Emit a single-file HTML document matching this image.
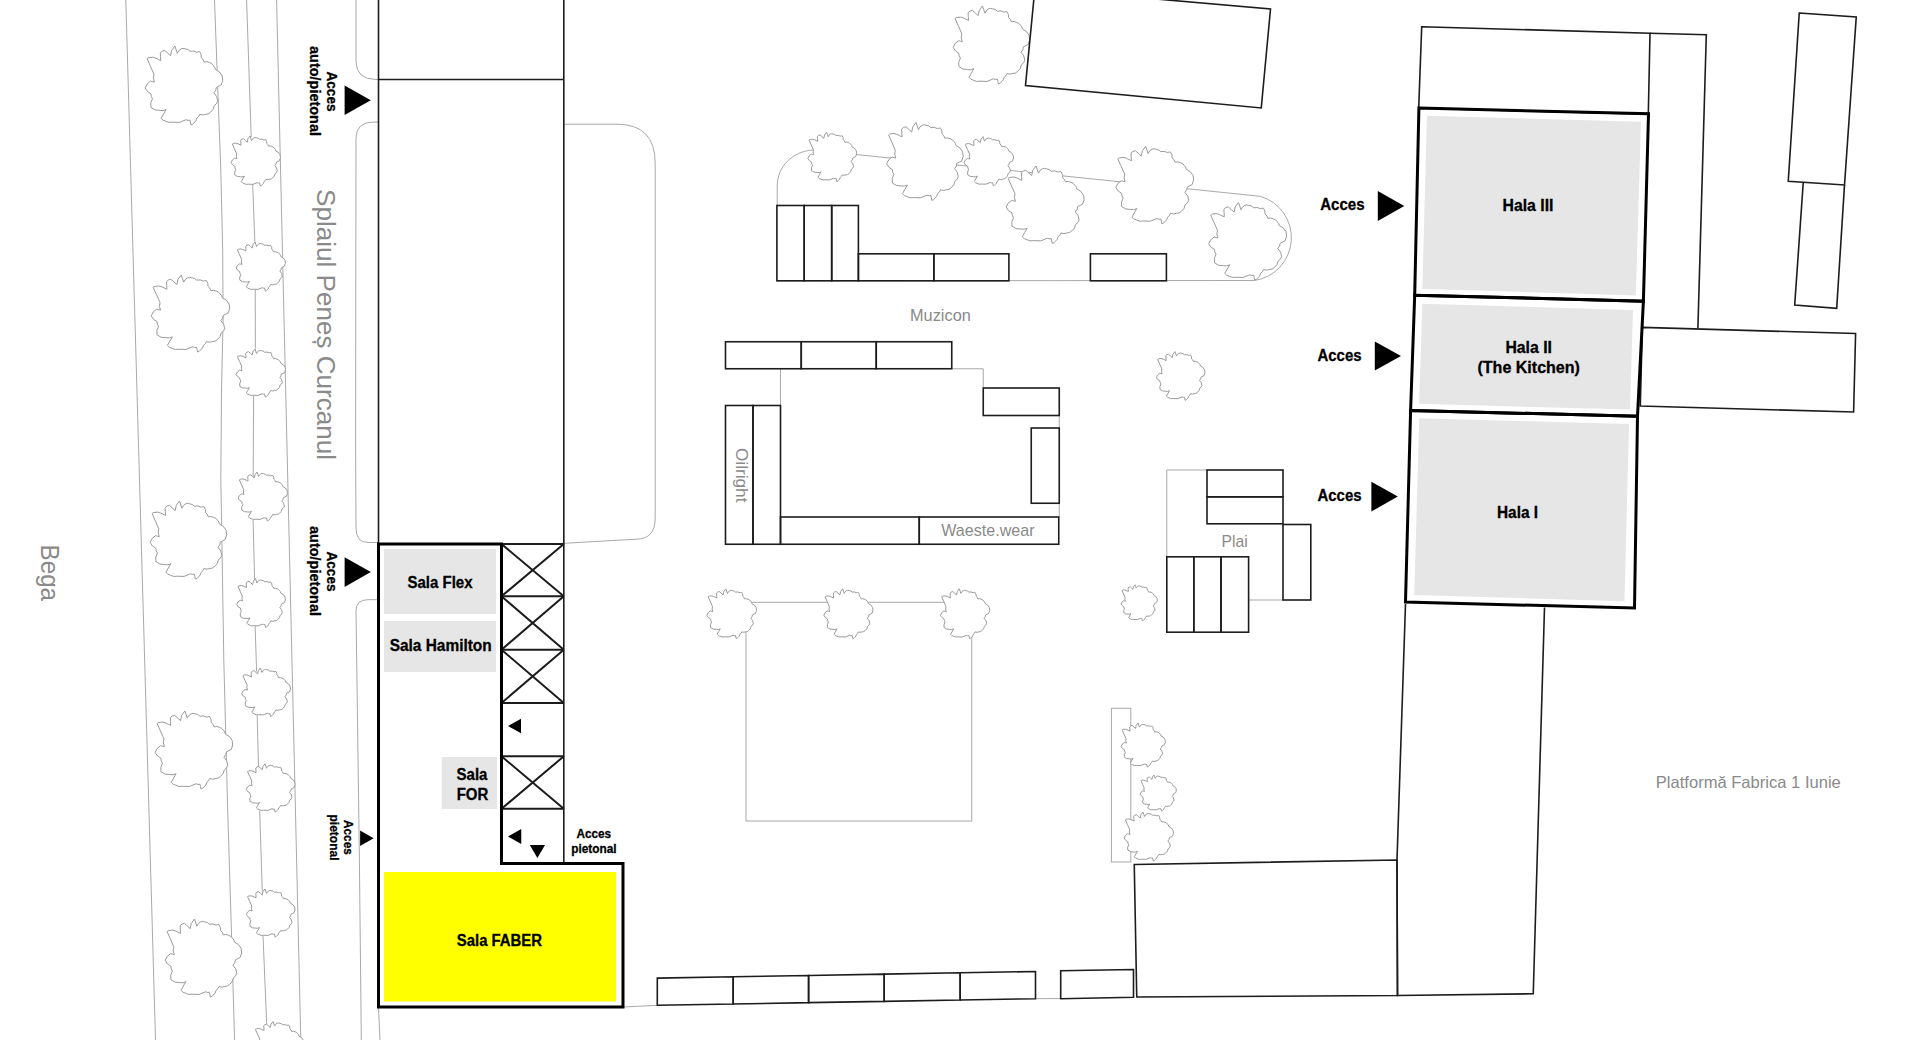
<!DOCTYPE html>
<html><head><meta charset="utf-8"><style>
html,body{margin:0;padding:0;background:#fff;width:1920px;height:1040px;overflow:hidden}
svg{display:block;font-family:"Liberation Sans",sans-serif}
</style></head><body>
<svg width="1920" height="1040" viewBox="0 0 1920 1040">
<rect width="1920" height="1040" fill="#fff"/>
<g fill="none" stroke="#a9a9a9" stroke-width="1">
<path d="M125.8,0 L155.5,1040"/>
<path d="M214.5,0 L220.8,170 L222.7,250 L223.1,320 L221.5,390 L220.8,480 L221.2,500 L223.8,660 L227.7,810 L231.5,934 L234.6,1040"/>
<path d="M246.6,0 L251.2,137 M252.7,184 L254.8,242 M255.2,289.6 L255.4,348.5 M253.6,395.2 L253.2,477.4 M253.1,520 L254.6,579.2 M255.1,625.4 L256.6,671.5 M257.2,715.4 L258.5,767 M259.7,810.8 L262.3,892.3 M263,935.4 L266.7,1024.4"/>
<path d="M276.6,0 L300.8,1040"/>
<path d="M356,0 L356,61 Q356,79.5 376,79.5 L378,79.5"/>
<path d="M378,122 L374,122 Q356,122 356,138 L355.6,440 L356,528 Q356,542.5 368,542.5 L378,542.5"/>
<path d="M378,599.7 L368,599.7 Q356,599.7 356,611 L359.4,860 L361.3,1040"/>
<path d="M378.5,1007 L380,1040"/>
<path d="M563.8,124.2 L617,124.2 Q655.2,124.2 655.2,163.5 L655.2,518 Q655.2,539.2 636,539.2 L563.8,543.3"/>
<path d="M623,1007 L657.3,1005.3 M1035.5,998.7 L1060.7,998.5"/>
<path d="M777.2,205.5 L777.2,186 C777.2,166 793,151.5 812.4,150 L1260.3,196.3 A43.2,43.2 0 0 1 1254.5,280.5 L776.9,280.8"/>
<path d="M951.75,368.75 L983.25,368.75 L983.25,388 M1059.25,415.5 L1059.25,428 M1059.25,503.25 L1059.25,517 M780.5,368.75 L780.5,405.5"/>
<rect x="746.00" y="602.30" width="225.75" height="218.70"/>
<path d="M1207,470 L1166.8,470 L1166.8,556.8 M1248.6,600 L1283,600"/>
<rect x="1111.40" y="708.30" width="19.40" height="153.70"/>
</g>
<g fill="#fff" stroke="#9a9a9a" stroke-width="1">
<path vector-effect="non-scaling-stroke" d="M-35.9,-26.4 Q-35.2,-27.3 -34.0,-27.4 Q-30.5,-28.6 -27.3,-26.9 Q-24.9,-25.7 -22.5,-24.5 Q-22.7,-28.4 -22.9,-32.2 Q-21.3,-34.3 -18.6,-34.6 Q-15.7,-32.0 -12.8,-29.3 Q-12.8,-35.0 -8.5,-38.9 Q-7.3,-35.3 -6.1,-31.7 Q-5.2,-34.7 -2.3,-36.1 Q-0.3,-37.0 1.6,-36.1 Q4.5,-36.0 6.4,-33.7 Q10.0,-34.7 13.1,-32.7 Q14.4,-33.6 16.0,-33.2 Q18.0,-30.6 17.5,-27.4 Q19.8,-25.9 20.3,-23.1 Q23.1,-24.0 25.6,-22.6 Q28.2,-22.0 29.5,-19.7 Q31.3,-18.2 31.4,-15.9 Q36.1,-14.2 38.1,-9.6 Q39.7,-4.9 37.2,-0.5 Q34.8,0.7 32.4,1.9 Q32.4,5.1 30.0,7.2 Q33.7,10.5 33.8,15.4 Q33.0,18.3 30.4,19.7 Q30.0,23.9 26.6,26.4 Q24.6,28.5 21.8,28.4 Q18.9,29.7 16.0,28.4 Q15.4,30.9 13.1,32.2 Q12.7,35.2 10.2,37.0 Q9.2,38.6 7.4,38.9 Q6.9,36.5 6.4,34.1 Q4.4,34.8 2.5,33.7 Q-3.7,37.8 -10.9,36.1 Q-14.5,37.1 -17.6,35.1 Q-20.4,34.6 -22.0,32.2 Q-19.6,27.9 -17.2,23.6 Q-20.1,25.4 -23.4,24.5 Q-28.4,25.0 -32.1,21.6 Q-33.2,17.0 -30.6,13.0 Q-32.4,10.9 -32.1,8.2 Q-36.2,6.6 -37.8,2.4 Q-36.6,-2.1 -32.5,-4.3 Q-30.6,-3.8 -28.7,-3.4 Q-30.6,-7.1 -29.2,-11.1 Q-32.5,-18.8 -35.9,-26.4Z" transform="translate(183.5,85.5) scale(1.0132,1.0154)"/>
<path vector-effect="non-scaling-stroke" d="M-35.9,-26.4 Q-35.2,-27.3 -34.0,-27.4 Q-30.5,-28.6 -27.3,-26.9 Q-24.9,-25.7 -22.5,-24.5 Q-22.7,-28.4 -22.9,-32.2 Q-21.3,-34.3 -18.6,-34.6 Q-15.7,-32.0 -12.8,-29.3 Q-12.8,-35.0 -8.5,-38.9 Q-7.3,-35.3 -6.1,-31.7 Q-5.2,-34.7 -2.3,-36.1 Q-0.3,-37.0 1.6,-36.1 Q4.5,-36.0 6.4,-33.7 Q10.0,-34.7 13.1,-32.7 Q14.4,-33.6 16.0,-33.2 Q18.0,-30.6 17.5,-27.4 Q19.8,-25.9 20.3,-23.1 Q23.1,-24.0 25.6,-22.6 Q28.2,-22.0 29.5,-19.7 Q31.3,-18.2 31.4,-15.9 Q36.1,-14.2 38.1,-9.6 Q39.7,-4.9 37.2,-0.5 Q34.8,0.7 32.4,1.9 Q32.4,5.1 30.0,7.2 Q33.7,10.5 33.8,15.4 Q33.0,18.3 30.4,19.7 Q30.0,23.9 26.6,26.4 Q24.6,28.5 21.8,28.4 Q18.9,29.7 16.0,28.4 Q15.4,30.9 13.1,32.2 Q12.7,35.2 10.2,37.0 Q9.2,38.6 7.4,38.9 Q6.9,36.5 6.4,34.1 Q4.4,34.8 2.5,33.7 Q-3.7,37.8 -10.9,36.1 Q-14.5,37.1 -17.6,35.1 Q-20.4,34.6 -22.0,32.2 Q-19.6,27.9 -17.2,23.6 Q-20.1,25.4 -23.4,24.5 Q-28.4,25.0 -32.1,21.6 Q-33.2,17.0 -30.6,13.0 Q-32.4,10.9 -32.1,8.2 Q-36.2,6.6 -37.8,2.4 Q-36.6,-2.1 -32.5,-4.3 Q-30.6,-3.8 -28.7,-3.4 Q-30.6,-7.1 -29.2,-11.1 Q-32.5,-18.8 -35.9,-26.4Z" transform="translate(190.0,313.5) scale(1.0263,0.9897)"/>
<path vector-effect="non-scaling-stroke" d="M-35.9,-26.4 Q-35.2,-27.3 -34.0,-27.4 Q-30.5,-28.6 -27.3,-26.9 Q-24.9,-25.7 -22.5,-24.5 Q-22.7,-28.4 -22.9,-32.2 Q-21.3,-34.3 -18.6,-34.6 Q-15.7,-32.0 -12.8,-29.3 Q-12.8,-35.0 -8.5,-38.9 Q-7.3,-35.3 -6.1,-31.7 Q-5.2,-34.7 -2.3,-36.1 Q-0.3,-37.0 1.6,-36.1 Q4.5,-36.0 6.4,-33.7 Q10.0,-34.7 13.1,-32.7 Q14.4,-33.6 16.0,-33.2 Q18.0,-30.6 17.5,-27.4 Q19.8,-25.9 20.3,-23.1 Q23.1,-24.0 25.6,-22.6 Q28.2,-22.0 29.5,-19.7 Q31.3,-18.2 31.4,-15.9 Q36.1,-14.2 38.1,-9.6 Q39.7,-4.9 37.2,-0.5 Q34.8,0.7 32.4,1.9 Q32.4,5.1 30.0,7.2 Q33.7,10.5 33.8,15.4 Q33.0,18.3 30.4,19.7 Q30.0,23.9 26.6,26.4 Q24.6,28.5 21.8,28.4 Q18.9,29.7 16.0,28.4 Q15.4,30.9 13.1,32.2 Q12.7,35.2 10.2,37.0 Q9.2,38.6 7.4,38.9 Q6.9,36.5 6.4,34.1 Q4.4,34.8 2.5,33.7 Q-3.7,37.8 -10.9,36.1 Q-14.5,37.1 -17.6,35.1 Q-20.4,34.6 -22.0,32.2 Q-19.6,27.9 -17.2,23.6 Q-20.1,25.4 -23.4,24.5 Q-28.4,25.0 -32.1,21.6 Q-33.2,17.0 -30.6,13.0 Q-32.4,10.9 -32.1,8.2 Q-36.2,6.6 -37.8,2.4 Q-36.6,-2.1 -32.5,-4.3 Q-30.6,-3.8 -28.7,-3.4 Q-30.6,-7.1 -29.2,-11.1 Q-32.5,-18.8 -35.9,-26.4Z" transform="translate(188.0,540.0) scale(1.0000,1.0026)"/>
<path vector-effect="non-scaling-stroke" d="M-35.9,-26.4 Q-35.2,-27.3 -34.0,-27.4 Q-30.5,-28.6 -27.3,-26.9 Q-24.9,-25.7 -22.5,-24.5 Q-22.7,-28.4 -22.9,-32.2 Q-21.3,-34.3 -18.6,-34.6 Q-15.7,-32.0 -12.8,-29.3 Q-12.8,-35.0 -8.5,-38.9 Q-7.3,-35.3 -6.1,-31.7 Q-5.2,-34.7 -2.3,-36.1 Q-0.3,-37.0 1.6,-36.1 Q4.5,-36.0 6.4,-33.7 Q10.0,-34.7 13.1,-32.7 Q14.4,-33.6 16.0,-33.2 Q18.0,-30.6 17.5,-27.4 Q19.8,-25.9 20.3,-23.1 Q23.1,-24.0 25.6,-22.6 Q28.2,-22.0 29.5,-19.7 Q31.3,-18.2 31.4,-15.9 Q36.1,-14.2 38.1,-9.6 Q39.7,-4.9 37.2,-0.5 Q34.8,0.7 32.4,1.9 Q32.4,5.1 30.0,7.2 Q33.7,10.5 33.8,15.4 Q33.0,18.3 30.4,19.7 Q30.0,23.9 26.6,26.4 Q24.6,28.5 21.8,28.4 Q18.9,29.7 16.0,28.4 Q15.4,30.9 13.1,32.2 Q12.7,35.2 10.2,37.0 Q9.2,38.6 7.4,38.9 Q6.9,36.5 6.4,34.1 Q4.4,34.8 2.5,33.7 Q-3.7,37.8 -10.9,36.1 Q-14.5,37.1 -17.6,35.1 Q-20.4,34.6 -22.0,32.2 Q-19.6,27.9 -17.2,23.6 Q-20.1,25.4 -23.4,24.5 Q-28.4,25.0 -32.1,21.6 Q-33.2,17.0 -30.6,13.0 Q-32.4,10.9 -32.1,8.2 Q-36.2,6.6 -37.8,2.4 Q-36.6,-2.1 -32.5,-4.3 Q-30.6,-3.8 -28.7,-3.4 Q-30.6,-7.1 -29.2,-11.1 Q-32.5,-18.8 -35.9,-26.4Z" transform="translate(193.5,750.0) scale(1.0132,1.0026)"/>
<path vector-effect="non-scaling-stroke" d="M-35.9,-26.4 Q-35.2,-27.3 -34.0,-27.4 Q-30.5,-28.6 -27.3,-26.9 Q-24.9,-25.7 -22.5,-24.5 Q-22.7,-28.4 -22.9,-32.2 Q-21.3,-34.3 -18.6,-34.6 Q-15.7,-32.0 -12.8,-29.3 Q-12.8,-35.0 -8.5,-38.9 Q-7.3,-35.3 -6.1,-31.7 Q-5.2,-34.7 -2.3,-36.1 Q-0.3,-37.0 1.6,-36.1 Q4.5,-36.0 6.4,-33.7 Q10.0,-34.7 13.1,-32.7 Q14.4,-33.6 16.0,-33.2 Q18.0,-30.6 17.5,-27.4 Q19.8,-25.9 20.3,-23.1 Q23.1,-24.0 25.6,-22.6 Q28.2,-22.0 29.5,-19.7 Q31.3,-18.2 31.4,-15.9 Q36.1,-14.2 38.1,-9.6 Q39.7,-4.9 37.2,-0.5 Q34.8,0.7 32.4,1.9 Q32.4,5.1 30.0,7.2 Q33.7,10.5 33.8,15.4 Q33.0,18.3 30.4,19.7 Q30.0,23.9 26.6,26.4 Q24.6,28.5 21.8,28.4 Q18.9,29.7 16.0,28.4 Q15.4,30.9 13.1,32.2 Q12.7,35.2 10.2,37.0 Q9.2,38.6 7.4,38.9 Q6.9,36.5 6.4,34.1 Q4.4,34.8 2.5,33.7 Q-3.7,37.8 -10.9,36.1 Q-14.5,37.1 -17.6,35.1 Q-20.4,34.6 -22.0,32.2 Q-19.6,27.9 -17.2,23.6 Q-20.1,25.4 -23.4,24.5 Q-28.4,25.0 -32.1,21.6 Q-33.2,17.0 -30.6,13.0 Q-32.4,10.9 -32.1,8.2 Q-36.2,6.6 -37.8,2.4 Q-36.6,-2.1 -32.5,-4.3 Q-30.6,-3.8 -28.7,-3.4 Q-30.6,-7.1 -29.2,-11.1 Q-32.5,-18.8 -35.9,-26.4Z" transform="translate(203.0,958.0) scale(1.0000,1.0026)"/>
<path vector-effect="non-scaling-stroke" d="M-35.9,-26.4 Q-35.2,-27.3 -34.0,-27.4 Q-30.5,-28.6 -27.3,-26.9 Q-24.9,-25.7 -22.5,-24.5 Q-22.7,-28.4 -22.9,-32.2 Q-21.3,-34.3 -18.6,-34.6 Q-15.7,-32.0 -12.8,-29.3 Q-12.8,-35.0 -8.5,-38.9 Q-7.3,-35.3 -6.1,-31.7 Q-5.2,-34.7 -2.3,-36.1 Q-0.3,-37.0 1.6,-36.1 Q4.5,-36.0 6.4,-33.7 Q10.0,-34.7 13.1,-32.7 Q14.4,-33.6 16.0,-33.2 Q18.0,-30.6 17.5,-27.4 Q19.8,-25.9 20.3,-23.1 Q23.1,-24.0 25.6,-22.6 Q28.2,-22.0 29.5,-19.7 Q31.3,-18.2 31.4,-15.9 Q36.1,-14.2 38.1,-9.6 Q39.7,-4.9 37.2,-0.5 Q34.8,0.7 32.4,1.9 Q32.4,5.1 30.0,7.2 Q33.7,10.5 33.8,15.4 Q33.0,18.3 30.4,19.7 Q30.0,23.9 26.6,26.4 Q24.6,28.5 21.8,28.4 Q18.9,29.7 16.0,28.4 Q15.4,30.9 13.1,32.2 Q12.7,35.2 10.2,37.0 Q9.2,38.6 7.4,38.9 Q6.9,36.5 6.4,34.1 Q4.4,34.8 2.5,33.7 Q-3.7,37.8 -10.9,36.1 Q-14.5,37.1 -17.6,35.1 Q-20.4,34.6 -22.0,32.2 Q-19.6,27.9 -17.2,23.6 Q-20.1,25.4 -23.4,24.5 Q-28.4,25.0 -32.1,21.6 Q-33.2,17.0 -30.6,13.0 Q-32.4,10.9 -32.1,8.2 Q-36.2,6.6 -37.8,2.4 Q-36.6,-2.1 -32.5,-4.3 Q-30.6,-3.8 -28.7,-3.4 Q-30.6,-7.1 -29.2,-11.1 Q-32.5,-18.8 -35.9,-26.4Z" transform="translate(255.5,161.0) scale(0.6447,0.6427)"/>
<path vector-effect="non-scaling-stroke" d="M-35.9,-26.4 Q-35.2,-27.3 -34.0,-27.4 Q-30.5,-28.6 -27.3,-26.9 Q-24.9,-25.7 -22.5,-24.5 Q-22.7,-28.4 -22.9,-32.2 Q-21.3,-34.3 -18.6,-34.6 Q-15.7,-32.0 -12.8,-29.3 Q-12.8,-35.0 -8.5,-38.9 Q-7.3,-35.3 -6.1,-31.7 Q-5.2,-34.7 -2.3,-36.1 Q-0.3,-37.0 1.6,-36.1 Q4.5,-36.0 6.4,-33.7 Q10.0,-34.7 13.1,-32.7 Q14.4,-33.6 16.0,-33.2 Q18.0,-30.6 17.5,-27.4 Q19.8,-25.9 20.3,-23.1 Q23.1,-24.0 25.6,-22.6 Q28.2,-22.0 29.5,-19.7 Q31.3,-18.2 31.4,-15.9 Q36.1,-14.2 38.1,-9.6 Q39.7,-4.9 37.2,-0.5 Q34.8,0.7 32.4,1.9 Q32.4,5.1 30.0,7.2 Q33.7,10.5 33.8,15.4 Q33.0,18.3 30.4,19.7 Q30.0,23.9 26.6,26.4 Q24.6,28.5 21.8,28.4 Q18.9,29.7 16.0,28.4 Q15.4,30.9 13.1,32.2 Q12.7,35.2 10.2,37.0 Q9.2,38.6 7.4,38.9 Q6.9,36.5 6.4,34.1 Q4.4,34.8 2.5,33.7 Q-3.7,37.8 -10.9,36.1 Q-14.5,37.1 -17.6,35.1 Q-20.4,34.6 -22.0,32.2 Q-19.6,27.9 -17.2,23.6 Q-20.1,25.4 -23.4,24.5 Q-28.4,25.0 -32.1,21.6 Q-33.2,17.0 -30.6,13.0 Q-32.4,10.9 -32.1,8.2 Q-36.2,6.6 -37.8,2.4 Q-36.6,-2.1 -32.5,-4.3 Q-30.6,-3.8 -28.7,-3.4 Q-30.6,-7.1 -29.2,-11.1 Q-32.5,-18.8 -35.9,-26.4Z" transform="translate(260.5,266.5) scale(0.6447,0.6298)"/>
<path vector-effect="non-scaling-stroke" d="M-35.9,-26.4 Q-35.2,-27.3 -34.0,-27.4 Q-30.5,-28.6 -27.3,-26.9 Q-24.9,-25.7 -22.5,-24.5 Q-22.7,-28.4 -22.9,-32.2 Q-21.3,-34.3 -18.6,-34.6 Q-15.7,-32.0 -12.8,-29.3 Q-12.8,-35.0 -8.5,-38.9 Q-7.3,-35.3 -6.1,-31.7 Q-5.2,-34.7 -2.3,-36.1 Q-0.3,-37.0 1.6,-36.1 Q4.5,-36.0 6.4,-33.7 Q10.0,-34.7 13.1,-32.7 Q14.4,-33.6 16.0,-33.2 Q18.0,-30.6 17.5,-27.4 Q19.8,-25.9 20.3,-23.1 Q23.1,-24.0 25.6,-22.6 Q28.2,-22.0 29.5,-19.7 Q31.3,-18.2 31.4,-15.9 Q36.1,-14.2 38.1,-9.6 Q39.7,-4.9 37.2,-0.5 Q34.8,0.7 32.4,1.9 Q32.4,5.1 30.0,7.2 Q33.7,10.5 33.8,15.4 Q33.0,18.3 30.4,19.7 Q30.0,23.9 26.6,26.4 Q24.6,28.5 21.8,28.4 Q18.9,29.7 16.0,28.4 Q15.4,30.9 13.1,32.2 Q12.7,35.2 10.2,37.0 Q9.2,38.6 7.4,38.9 Q6.9,36.5 6.4,34.1 Q4.4,34.8 2.5,33.7 Q-3.7,37.8 -10.9,36.1 Q-14.5,37.1 -17.6,35.1 Q-20.4,34.6 -22.0,32.2 Q-19.6,27.9 -17.2,23.6 Q-20.1,25.4 -23.4,24.5 Q-28.4,25.0 -32.1,21.6 Q-33.2,17.0 -30.6,13.0 Q-32.4,10.9 -32.1,8.2 Q-36.2,6.6 -37.8,2.4 Q-36.6,-2.1 -32.5,-4.3 Q-30.6,-3.8 -28.7,-3.4 Q-30.6,-7.1 -29.2,-11.1 Q-32.5,-18.8 -35.9,-26.4Z" transform="translate(260.5,373.0) scale(0.6447,0.6170)"/>
<path vector-effect="non-scaling-stroke" d="M-35.9,-26.4 Q-35.2,-27.3 -34.0,-27.4 Q-30.5,-28.6 -27.3,-26.9 Q-24.9,-25.7 -22.5,-24.5 Q-22.7,-28.4 -22.9,-32.2 Q-21.3,-34.3 -18.6,-34.6 Q-15.7,-32.0 -12.8,-29.3 Q-12.8,-35.0 -8.5,-38.9 Q-7.3,-35.3 -6.1,-31.7 Q-5.2,-34.7 -2.3,-36.1 Q-0.3,-37.0 1.6,-36.1 Q4.5,-36.0 6.4,-33.7 Q10.0,-34.7 13.1,-32.7 Q14.4,-33.6 16.0,-33.2 Q18.0,-30.6 17.5,-27.4 Q19.8,-25.9 20.3,-23.1 Q23.1,-24.0 25.6,-22.6 Q28.2,-22.0 29.5,-19.7 Q31.3,-18.2 31.4,-15.9 Q36.1,-14.2 38.1,-9.6 Q39.7,-4.9 37.2,-0.5 Q34.8,0.7 32.4,1.9 Q32.4,5.1 30.0,7.2 Q33.7,10.5 33.8,15.4 Q33.0,18.3 30.4,19.7 Q30.0,23.9 26.6,26.4 Q24.6,28.5 21.8,28.4 Q18.9,29.7 16.0,28.4 Q15.4,30.9 13.1,32.2 Q12.7,35.2 10.2,37.0 Q9.2,38.6 7.4,38.9 Q6.9,36.5 6.4,34.1 Q4.4,34.8 2.5,33.7 Q-3.7,37.8 -10.9,36.1 Q-14.5,37.1 -17.6,35.1 Q-20.4,34.6 -22.0,32.2 Q-19.6,27.9 -17.2,23.6 Q-20.1,25.4 -23.4,24.5 Q-28.4,25.0 -32.1,21.6 Q-33.2,17.0 -30.6,13.0 Q-32.4,10.9 -32.1,8.2 Q-36.2,6.6 -37.8,2.4 Q-36.6,-2.1 -32.5,-4.3 Q-30.6,-3.8 -28.7,-3.4 Q-30.6,-7.1 -29.2,-11.1 Q-32.5,-18.8 -35.9,-26.4Z" transform="translate(262.5,496.5) scale(0.6447,0.6298)"/>
<path vector-effect="non-scaling-stroke" d="M-35.9,-26.4 Q-35.2,-27.3 -34.0,-27.4 Q-30.5,-28.6 -27.3,-26.9 Q-24.9,-25.7 -22.5,-24.5 Q-22.7,-28.4 -22.9,-32.2 Q-21.3,-34.3 -18.6,-34.6 Q-15.7,-32.0 -12.8,-29.3 Q-12.8,-35.0 -8.5,-38.9 Q-7.3,-35.3 -6.1,-31.7 Q-5.2,-34.7 -2.3,-36.1 Q-0.3,-37.0 1.6,-36.1 Q4.5,-36.0 6.4,-33.7 Q10.0,-34.7 13.1,-32.7 Q14.4,-33.6 16.0,-33.2 Q18.0,-30.6 17.5,-27.4 Q19.8,-25.9 20.3,-23.1 Q23.1,-24.0 25.6,-22.6 Q28.2,-22.0 29.5,-19.7 Q31.3,-18.2 31.4,-15.9 Q36.1,-14.2 38.1,-9.6 Q39.7,-4.9 37.2,-0.5 Q34.8,0.7 32.4,1.9 Q32.4,5.1 30.0,7.2 Q33.7,10.5 33.8,15.4 Q33.0,18.3 30.4,19.7 Q30.0,23.9 26.6,26.4 Q24.6,28.5 21.8,28.4 Q18.9,29.7 16.0,28.4 Q15.4,30.9 13.1,32.2 Q12.7,35.2 10.2,37.0 Q9.2,38.6 7.4,38.9 Q6.9,36.5 6.4,34.1 Q4.4,34.8 2.5,33.7 Q-3.7,37.8 -10.9,36.1 Q-14.5,37.1 -17.6,35.1 Q-20.4,34.6 -22.0,32.2 Q-19.6,27.9 -17.2,23.6 Q-20.1,25.4 -23.4,24.5 Q-28.4,25.0 -32.1,21.6 Q-33.2,17.0 -30.6,13.0 Q-32.4,10.9 -32.1,8.2 Q-36.2,6.6 -37.8,2.4 Q-36.6,-2.1 -32.5,-4.3 Q-30.6,-3.8 -28.7,-3.4 Q-30.6,-7.1 -29.2,-11.1 Q-32.5,-18.8 -35.9,-26.4Z" transform="translate(260.8,603.0) scale(0.6355,0.6285)"/>
<path vector-effect="non-scaling-stroke" d="M-35.9,-26.4 Q-35.2,-27.3 -34.0,-27.4 Q-30.5,-28.6 -27.3,-26.9 Q-24.9,-25.7 -22.5,-24.5 Q-22.7,-28.4 -22.9,-32.2 Q-21.3,-34.3 -18.6,-34.6 Q-15.7,-32.0 -12.8,-29.3 Q-12.8,-35.0 -8.5,-38.9 Q-7.3,-35.3 -6.1,-31.7 Q-5.2,-34.7 -2.3,-36.1 Q-0.3,-37.0 1.6,-36.1 Q4.5,-36.0 6.4,-33.7 Q10.0,-34.7 13.1,-32.7 Q14.4,-33.6 16.0,-33.2 Q18.0,-30.6 17.5,-27.4 Q19.8,-25.9 20.3,-23.1 Q23.1,-24.0 25.6,-22.6 Q28.2,-22.0 29.5,-19.7 Q31.3,-18.2 31.4,-15.9 Q36.1,-14.2 38.1,-9.6 Q39.7,-4.9 37.2,-0.5 Q34.8,0.7 32.4,1.9 Q32.4,5.1 30.0,7.2 Q33.7,10.5 33.8,15.4 Q33.0,18.3 30.4,19.7 Q30.0,23.9 26.6,26.4 Q24.6,28.5 21.8,28.4 Q18.9,29.7 16.0,28.4 Q15.4,30.9 13.1,32.2 Q12.7,35.2 10.2,37.0 Q9.2,38.6 7.4,38.9 Q6.9,36.5 6.4,34.1 Q4.4,34.8 2.5,33.7 Q-3.7,37.8 -10.9,36.1 Q-14.5,37.1 -17.6,35.1 Q-20.4,34.6 -22.0,32.2 Q-19.6,27.9 -17.2,23.6 Q-20.1,25.4 -23.4,24.5 Q-28.4,25.0 -32.1,21.6 Q-33.2,17.0 -30.6,13.0 Q-32.4,10.9 -32.1,8.2 Q-36.2,6.6 -37.8,2.4 Q-36.6,-2.1 -32.5,-4.3 Q-30.6,-3.8 -28.7,-3.4 Q-30.6,-7.1 -29.2,-11.1 Q-32.5,-18.8 -35.9,-26.4Z" transform="translate(265.8,692.2) scale(0.6382,0.6234)"/>
<path vector-effect="non-scaling-stroke" d="M-35.9,-26.4 Q-35.2,-27.3 -34.0,-27.4 Q-30.5,-28.6 -27.3,-26.9 Q-24.9,-25.7 -22.5,-24.5 Q-22.7,-28.4 -22.9,-32.2 Q-21.3,-34.3 -18.6,-34.6 Q-15.7,-32.0 -12.8,-29.3 Q-12.8,-35.0 -8.5,-38.9 Q-7.3,-35.3 -6.1,-31.7 Q-5.2,-34.7 -2.3,-36.1 Q-0.3,-37.0 1.6,-36.1 Q4.5,-36.0 6.4,-33.7 Q10.0,-34.7 13.1,-32.7 Q14.4,-33.6 16.0,-33.2 Q18.0,-30.6 17.5,-27.4 Q19.8,-25.9 20.3,-23.1 Q23.1,-24.0 25.6,-22.6 Q28.2,-22.0 29.5,-19.7 Q31.3,-18.2 31.4,-15.9 Q36.1,-14.2 38.1,-9.6 Q39.7,-4.9 37.2,-0.5 Q34.8,0.7 32.4,1.9 Q32.4,5.1 30.0,7.2 Q33.7,10.5 33.8,15.4 Q33.0,18.3 30.4,19.7 Q30.0,23.9 26.6,26.4 Q24.6,28.5 21.8,28.4 Q18.9,29.7 16.0,28.4 Q15.4,30.9 13.1,32.2 Q12.7,35.2 10.2,37.0 Q9.2,38.6 7.4,38.9 Q6.9,36.5 6.4,34.1 Q4.4,34.8 2.5,33.7 Q-3.7,37.8 -10.9,36.1 Q-14.5,37.1 -17.6,35.1 Q-20.4,34.6 -22.0,32.2 Q-19.6,27.9 -17.2,23.6 Q-20.1,25.4 -23.4,24.5 Q-28.4,25.0 -32.1,21.6 Q-33.2,17.0 -30.6,13.0 Q-32.4,10.9 -32.1,8.2 Q-36.2,6.6 -37.8,2.4 Q-36.6,-2.1 -32.5,-4.3 Q-30.6,-3.8 -28.7,-3.4 Q-30.6,-7.1 -29.2,-11.1 Q-32.5,-18.8 -35.9,-26.4Z" transform="translate(270.4,787.9) scale(0.6368,0.6195)"/>
<path vector-effect="non-scaling-stroke" d="M-35.9,-26.4 Q-35.2,-27.3 -34.0,-27.4 Q-30.5,-28.6 -27.3,-26.9 Q-24.9,-25.7 -22.5,-24.5 Q-22.7,-28.4 -22.9,-32.2 Q-21.3,-34.3 -18.6,-34.6 Q-15.7,-32.0 -12.8,-29.3 Q-12.8,-35.0 -8.5,-38.9 Q-7.3,-35.3 -6.1,-31.7 Q-5.2,-34.7 -2.3,-36.1 Q-0.3,-37.0 1.6,-36.1 Q4.5,-36.0 6.4,-33.7 Q10.0,-34.7 13.1,-32.7 Q14.4,-33.6 16.0,-33.2 Q18.0,-30.6 17.5,-27.4 Q19.8,-25.9 20.3,-23.1 Q23.1,-24.0 25.6,-22.6 Q28.2,-22.0 29.5,-19.7 Q31.3,-18.2 31.4,-15.9 Q36.1,-14.2 38.1,-9.6 Q39.7,-4.9 37.2,-0.5 Q34.8,0.7 32.4,1.9 Q32.4,5.1 30.0,7.2 Q33.7,10.5 33.8,15.4 Q33.0,18.3 30.4,19.7 Q30.0,23.9 26.6,26.4 Q24.6,28.5 21.8,28.4 Q18.9,29.7 16.0,28.4 Q15.4,30.9 13.1,32.2 Q12.7,35.2 10.2,37.0 Q9.2,38.6 7.4,38.9 Q6.9,36.5 6.4,34.1 Q4.4,34.8 2.5,33.7 Q-3.7,37.8 -10.9,36.1 Q-14.5,37.1 -17.6,35.1 Q-20.4,34.6 -22.0,32.2 Q-19.6,27.9 -17.2,23.6 Q-20.1,25.4 -23.4,24.5 Q-28.4,25.0 -32.1,21.6 Q-33.2,17.0 -30.6,13.0 Q-32.4,10.9 -32.1,8.2 Q-36.2,6.6 -37.8,2.4 Q-36.6,-2.1 -32.5,-4.3 Q-30.6,-3.8 -28.7,-3.4 Q-30.6,-7.1 -29.2,-11.1 Q-32.5,-18.8 -35.9,-26.4Z" transform="translate(270.4,913.0) scale(0.6368,0.6170)"/>
<path vector-effect="non-scaling-stroke" d="M-35.9,-26.4 Q-35.2,-27.3 -34.0,-27.4 Q-30.5,-28.6 -27.3,-26.9 Q-24.9,-25.7 -22.5,-24.5 Q-22.7,-28.4 -22.9,-32.2 Q-21.3,-34.3 -18.6,-34.6 Q-15.7,-32.0 -12.8,-29.3 Q-12.8,-35.0 -8.5,-38.9 Q-7.3,-35.3 -6.1,-31.7 Q-5.2,-34.7 -2.3,-36.1 Q-0.3,-37.0 1.6,-36.1 Q4.5,-36.0 6.4,-33.7 Q10.0,-34.7 13.1,-32.7 Q14.4,-33.6 16.0,-33.2 Q18.0,-30.6 17.5,-27.4 Q19.8,-25.9 20.3,-23.1 Q23.1,-24.0 25.6,-22.6 Q28.2,-22.0 29.5,-19.7 Q31.3,-18.2 31.4,-15.9 Q36.1,-14.2 38.1,-9.6 Q39.7,-4.9 37.2,-0.5 Q34.8,0.7 32.4,1.9 Q32.4,5.1 30.0,7.2 Q33.7,10.5 33.8,15.4 Q33.0,18.3 30.4,19.7 Q30.0,23.9 26.6,26.4 Q24.6,28.5 21.8,28.4 Q18.9,29.7 16.0,28.4 Q15.4,30.9 13.1,32.2 Q12.7,35.2 10.2,37.0 Q9.2,38.6 7.4,38.9 Q6.9,36.5 6.4,34.1 Q4.4,34.8 2.5,33.7 Q-3.7,37.8 -10.9,36.1 Q-14.5,37.1 -17.6,35.1 Q-20.4,34.6 -22.0,32.2 Q-19.6,27.9 -17.2,23.6 Q-20.1,25.4 -23.4,24.5 Q-28.4,25.0 -32.1,21.6 Q-33.2,17.0 -30.6,13.0 Q-32.4,10.9 -32.1,8.2 Q-36.2,6.6 -37.8,2.4 Q-36.6,-2.1 -32.5,-4.3 Q-30.6,-3.8 -28.7,-3.4 Q-30.6,-7.1 -29.2,-11.1 Q-32.5,-18.8 -35.9,-26.4Z" transform="translate(278.5,1045.8) scale(0.6447,0.6234)"/>
<path vector-effect="non-scaling-stroke" d="M-35.9,-26.4 Q-35.2,-27.3 -34.0,-27.4 Q-30.5,-28.6 -27.3,-26.9 Q-24.9,-25.7 -22.5,-24.5 Q-22.7,-28.4 -22.9,-32.2 Q-21.3,-34.3 -18.6,-34.6 Q-15.7,-32.0 -12.8,-29.3 Q-12.8,-35.0 -8.5,-38.9 Q-7.3,-35.3 -6.1,-31.7 Q-5.2,-34.7 -2.3,-36.1 Q-0.3,-37.0 1.6,-36.1 Q4.5,-36.0 6.4,-33.7 Q10.0,-34.7 13.1,-32.7 Q14.4,-33.6 16.0,-33.2 Q18.0,-30.6 17.5,-27.4 Q19.8,-25.9 20.3,-23.1 Q23.1,-24.0 25.6,-22.6 Q28.2,-22.0 29.5,-19.7 Q31.3,-18.2 31.4,-15.9 Q36.1,-14.2 38.1,-9.6 Q39.7,-4.9 37.2,-0.5 Q34.8,0.7 32.4,1.9 Q32.4,5.1 30.0,7.2 Q33.7,10.5 33.8,15.4 Q33.0,18.3 30.4,19.7 Q30.0,23.9 26.6,26.4 Q24.6,28.5 21.8,28.4 Q18.9,29.7 16.0,28.4 Q15.4,30.9 13.1,32.2 Q12.7,35.2 10.2,37.0 Q9.2,38.6 7.4,38.9 Q6.9,36.5 6.4,34.1 Q4.4,34.8 2.5,33.7 Q-3.7,37.8 -10.9,36.1 Q-14.5,37.1 -17.6,35.1 Q-20.4,34.6 -22.0,32.2 Q-19.6,27.9 -17.2,23.6 Q-20.1,25.4 -23.4,24.5 Q-28.4,25.0 -32.1,21.6 Q-33.2,17.0 -30.6,13.0 Q-32.4,10.9 -32.1,8.2 Q-36.2,6.6 -37.8,2.4 Q-36.6,-2.1 -32.5,-4.3 Q-30.6,-3.8 -28.7,-3.4 Q-30.6,-7.1 -29.2,-11.1 Q-32.5,-18.8 -35.9,-26.4Z" transform="translate(991.0,45.0) scale(1.0000,1.0026)"/>
<path vector-effect="non-scaling-stroke" d="M-35.9,-26.4 Q-35.2,-27.3 -34.0,-27.4 Q-30.5,-28.6 -27.3,-26.9 Q-24.9,-25.7 -22.5,-24.5 Q-22.7,-28.4 -22.9,-32.2 Q-21.3,-34.3 -18.6,-34.6 Q-15.7,-32.0 -12.8,-29.3 Q-12.8,-35.0 -8.5,-38.9 Q-7.3,-35.3 -6.1,-31.7 Q-5.2,-34.7 -2.3,-36.1 Q-0.3,-37.0 1.6,-36.1 Q4.5,-36.0 6.4,-33.7 Q10.0,-34.7 13.1,-32.7 Q14.4,-33.6 16.0,-33.2 Q18.0,-30.6 17.5,-27.4 Q19.8,-25.9 20.3,-23.1 Q23.1,-24.0 25.6,-22.6 Q28.2,-22.0 29.5,-19.7 Q31.3,-18.2 31.4,-15.9 Q36.1,-14.2 38.1,-9.6 Q39.7,-4.9 37.2,-0.5 Q34.8,0.7 32.4,1.9 Q32.4,5.1 30.0,7.2 Q33.7,10.5 33.8,15.4 Q33.0,18.3 30.4,19.7 Q30.0,23.9 26.6,26.4 Q24.6,28.5 21.8,28.4 Q18.9,29.7 16.0,28.4 Q15.4,30.9 13.1,32.2 Q12.7,35.2 10.2,37.0 Q9.2,38.6 7.4,38.9 Q6.9,36.5 6.4,34.1 Q4.4,34.8 2.5,33.7 Q-3.7,37.8 -10.9,36.1 Q-14.5,37.1 -17.6,35.1 Q-20.4,34.6 -22.0,32.2 Q-19.6,27.9 -17.2,23.6 Q-20.1,25.4 -23.4,24.5 Q-28.4,25.0 -32.1,21.6 Q-33.2,17.0 -30.6,13.0 Q-32.4,10.9 -32.1,8.2 Q-36.2,6.6 -37.8,2.4 Q-36.6,-2.1 -32.5,-4.3 Q-30.6,-3.8 -28.7,-3.4 Q-30.6,-7.1 -29.2,-11.1 Q-32.5,-18.8 -35.9,-26.4Z" transform="translate(832.0,156.9) scale(0.6368,0.6337)"/>
<path vector-effect="non-scaling-stroke" d="M-35.9,-26.4 Q-35.2,-27.3 -34.0,-27.4 Q-30.5,-28.6 -27.3,-26.9 Q-24.9,-25.7 -22.5,-24.5 Q-22.7,-28.4 -22.9,-32.2 Q-21.3,-34.3 -18.6,-34.6 Q-15.7,-32.0 -12.8,-29.3 Q-12.8,-35.0 -8.5,-38.9 Q-7.3,-35.3 -6.1,-31.7 Q-5.2,-34.7 -2.3,-36.1 Q-0.3,-37.0 1.6,-36.1 Q4.5,-36.0 6.4,-33.7 Q10.0,-34.7 13.1,-32.7 Q14.4,-33.6 16.0,-33.2 Q18.0,-30.6 17.5,-27.4 Q19.8,-25.9 20.3,-23.1 Q23.1,-24.0 25.6,-22.6 Q28.2,-22.0 29.5,-19.7 Q31.3,-18.2 31.4,-15.9 Q36.1,-14.2 38.1,-9.6 Q39.7,-4.9 37.2,-0.5 Q34.8,0.7 32.4,1.9 Q32.4,5.1 30.0,7.2 Q33.7,10.5 33.8,15.4 Q33.0,18.3 30.4,19.7 Q30.0,23.9 26.6,26.4 Q24.6,28.5 21.8,28.4 Q18.9,29.7 16.0,28.4 Q15.4,30.9 13.1,32.2 Q12.7,35.2 10.2,37.0 Q9.2,38.6 7.4,38.9 Q6.9,36.5 6.4,34.1 Q4.4,34.8 2.5,33.7 Q-3.7,37.8 -10.9,36.1 Q-14.5,37.1 -17.6,35.1 Q-20.4,34.6 -22.0,32.2 Q-19.6,27.9 -17.2,23.6 Q-20.1,25.4 -23.4,24.5 Q-28.4,25.0 -32.1,21.6 Q-33.2,17.0 -30.6,13.0 Q-32.4,10.9 -32.1,8.2 Q-36.2,6.6 -37.8,2.4 Q-36.6,-2.1 -32.5,-4.3 Q-30.6,-3.8 -28.7,-3.4 Q-30.6,-7.1 -29.2,-11.1 Q-32.5,-18.8 -35.9,-26.4Z" transform="translate(924.5,161.4) scale(1.0000,1.0013)"/>
<path vector-effect="non-scaling-stroke" d="M-35.9,-26.4 Q-35.2,-27.3 -34.0,-27.4 Q-30.5,-28.6 -27.3,-26.9 Q-24.9,-25.7 -22.5,-24.5 Q-22.7,-28.4 -22.9,-32.2 Q-21.3,-34.3 -18.6,-34.6 Q-15.7,-32.0 -12.8,-29.3 Q-12.8,-35.0 -8.5,-38.9 Q-7.3,-35.3 -6.1,-31.7 Q-5.2,-34.7 -2.3,-36.1 Q-0.3,-37.0 1.6,-36.1 Q4.5,-36.0 6.4,-33.7 Q10.0,-34.7 13.1,-32.7 Q14.4,-33.6 16.0,-33.2 Q18.0,-30.6 17.5,-27.4 Q19.8,-25.9 20.3,-23.1 Q23.1,-24.0 25.6,-22.6 Q28.2,-22.0 29.5,-19.7 Q31.3,-18.2 31.4,-15.9 Q36.1,-14.2 38.1,-9.6 Q39.7,-4.9 37.2,-0.5 Q34.8,0.7 32.4,1.9 Q32.4,5.1 30.0,7.2 Q33.7,10.5 33.8,15.4 Q33.0,18.3 30.4,19.7 Q30.0,23.9 26.6,26.4 Q24.6,28.5 21.8,28.4 Q18.9,29.7 16.0,28.4 Q15.4,30.9 13.1,32.2 Q12.7,35.2 10.2,37.0 Q9.2,38.6 7.4,38.9 Q6.9,36.5 6.4,34.1 Q4.4,34.8 2.5,33.7 Q-3.7,37.8 -10.9,36.1 Q-14.5,37.1 -17.6,35.1 Q-20.4,34.6 -22.0,32.2 Q-19.6,27.9 -17.2,23.6 Q-20.1,25.4 -23.4,24.5 Q-28.4,25.0 -32.1,21.6 Q-33.2,17.0 -30.6,13.0 Q-32.4,10.9 -32.1,8.2 Q-36.2,6.6 -37.8,2.4 Q-36.6,-2.1 -32.5,-4.3 Q-30.6,-3.8 -28.7,-3.4 Q-30.6,-7.1 -29.2,-11.1 Q-32.5,-18.8 -35.9,-26.4Z" transform="translate(988.5,161.2) scale(0.6474,0.6324)"/>
<path vector-effect="non-scaling-stroke" d="M-35.9,-26.4 Q-35.2,-27.3 -34.0,-27.4 Q-30.5,-28.6 -27.3,-26.9 Q-24.9,-25.7 -22.5,-24.5 Q-22.7,-28.4 -22.9,-32.2 Q-21.3,-34.3 -18.6,-34.6 Q-15.7,-32.0 -12.8,-29.3 Q-12.8,-35.0 -8.5,-38.9 Q-7.3,-35.3 -6.1,-31.7 Q-5.2,-34.7 -2.3,-36.1 Q-0.3,-37.0 1.6,-36.1 Q4.5,-36.0 6.4,-33.7 Q10.0,-34.7 13.1,-32.7 Q14.4,-33.6 16.0,-33.2 Q18.0,-30.6 17.5,-27.4 Q19.8,-25.9 20.3,-23.1 Q23.1,-24.0 25.6,-22.6 Q28.2,-22.0 29.5,-19.7 Q31.3,-18.2 31.4,-15.9 Q36.1,-14.2 38.1,-9.6 Q39.7,-4.9 37.2,-0.5 Q34.8,0.7 32.4,1.9 Q32.4,5.1 30.0,7.2 Q33.7,10.5 33.8,15.4 Q33.0,18.3 30.4,19.7 Q30.0,23.9 26.6,26.4 Q24.6,28.5 21.8,28.4 Q18.9,29.7 16.0,28.4 Q15.4,30.9 13.1,32.2 Q12.7,35.2 10.2,37.0 Q9.2,38.6 7.4,38.9 Q6.9,36.5 6.4,34.1 Q4.4,34.8 2.5,33.7 Q-3.7,37.8 -10.9,36.1 Q-14.5,37.1 -17.6,35.1 Q-20.4,34.6 -22.0,32.2 Q-19.6,27.9 -17.2,23.6 Q-20.1,25.4 -23.4,24.5 Q-28.4,25.0 -32.1,21.6 Q-33.2,17.0 -30.6,13.0 Q-32.4,10.9 -32.1,8.2 Q-36.2,6.6 -37.8,2.4 Q-36.6,-2.1 -32.5,-4.3 Q-30.6,-3.8 -28.7,-3.4 Q-30.6,-7.1 -29.2,-11.1 Q-32.5,-18.8 -35.9,-26.4Z" transform="translate(1044.7,204.7) scale(1.0184,0.9949)"/>
<path vector-effect="non-scaling-stroke" d="M-35.9,-26.4 Q-35.2,-27.3 -34.0,-27.4 Q-30.5,-28.6 -27.3,-26.9 Q-24.9,-25.7 -22.5,-24.5 Q-22.7,-28.4 -22.9,-32.2 Q-21.3,-34.3 -18.6,-34.6 Q-15.7,-32.0 -12.8,-29.3 Q-12.8,-35.0 -8.5,-38.9 Q-7.3,-35.3 -6.1,-31.7 Q-5.2,-34.7 -2.3,-36.1 Q-0.3,-37.0 1.6,-36.1 Q4.5,-36.0 6.4,-33.7 Q10.0,-34.7 13.1,-32.7 Q14.4,-33.6 16.0,-33.2 Q18.0,-30.6 17.5,-27.4 Q19.8,-25.9 20.3,-23.1 Q23.1,-24.0 25.6,-22.6 Q28.2,-22.0 29.5,-19.7 Q31.3,-18.2 31.4,-15.9 Q36.1,-14.2 38.1,-9.6 Q39.7,-4.9 37.2,-0.5 Q34.8,0.7 32.4,1.9 Q32.4,5.1 30.0,7.2 Q33.7,10.5 33.8,15.4 Q33.0,18.3 30.4,19.7 Q30.0,23.9 26.6,26.4 Q24.6,28.5 21.8,28.4 Q18.9,29.7 16.0,28.4 Q15.4,30.9 13.1,32.2 Q12.7,35.2 10.2,37.0 Q9.2,38.6 7.4,38.9 Q6.9,36.5 6.4,34.1 Q4.4,34.8 2.5,33.7 Q-3.7,37.8 -10.9,36.1 Q-14.5,37.1 -17.6,35.1 Q-20.4,34.6 -22.0,32.2 Q-19.6,27.9 -17.2,23.6 Q-20.1,25.4 -23.4,24.5 Q-28.4,25.0 -32.1,21.6 Q-33.2,17.0 -30.6,13.0 Q-32.4,10.9 -32.1,8.2 Q-36.2,6.6 -37.8,2.4 Q-36.6,-2.1 -32.5,-4.3 Q-30.6,-3.8 -28.7,-3.4 Q-30.6,-7.1 -29.2,-11.1 Q-32.5,-18.8 -35.9,-26.4Z" transform="translate(1154.3,185.1) scale(1.0171,0.9936)"/>
<path vector-effect="non-scaling-stroke" d="M-35.9,-26.4 Q-35.2,-27.3 -34.0,-27.4 Q-30.5,-28.6 -27.3,-26.9 Q-24.9,-25.7 -22.5,-24.5 Q-22.7,-28.4 -22.9,-32.2 Q-21.3,-34.3 -18.6,-34.6 Q-15.7,-32.0 -12.8,-29.3 Q-12.8,-35.0 -8.5,-38.9 Q-7.3,-35.3 -6.1,-31.7 Q-5.2,-34.7 -2.3,-36.1 Q-0.3,-37.0 1.6,-36.1 Q4.5,-36.0 6.4,-33.7 Q10.0,-34.7 13.1,-32.7 Q14.4,-33.6 16.0,-33.2 Q18.0,-30.6 17.5,-27.4 Q19.8,-25.9 20.3,-23.1 Q23.1,-24.0 25.6,-22.6 Q28.2,-22.0 29.5,-19.7 Q31.3,-18.2 31.4,-15.9 Q36.1,-14.2 38.1,-9.6 Q39.7,-4.9 37.2,-0.5 Q34.8,0.7 32.4,1.9 Q32.4,5.1 30.0,7.2 Q33.7,10.5 33.8,15.4 Q33.0,18.3 30.4,19.7 Q30.0,23.9 26.6,26.4 Q24.6,28.5 21.8,28.4 Q18.9,29.7 16.0,28.4 Q15.4,30.9 13.1,32.2 Q12.7,35.2 10.2,37.0 Q9.2,38.6 7.4,38.9 Q6.9,36.5 6.4,34.1 Q4.4,34.8 2.5,33.7 Q-3.7,37.8 -10.9,36.1 Q-14.5,37.1 -17.6,35.1 Q-20.4,34.6 -22.0,32.2 Q-19.6,27.9 -17.2,23.6 Q-20.1,25.4 -23.4,24.5 Q-28.4,25.0 -32.1,21.6 Q-33.2,17.0 -30.6,13.0 Q-32.4,10.9 -32.1,8.2 Q-36.2,6.6 -37.8,2.4 Q-36.6,-2.1 -32.5,-4.3 Q-30.6,-3.8 -28.7,-3.4 Q-30.6,-7.1 -29.2,-11.1 Q-32.5,-18.8 -35.9,-26.4Z" transform="translate(1247.2,241.3) scale(1.0184,0.9949)"/>
<path vector-effect="non-scaling-stroke" d="M-35.9,-26.4 Q-35.2,-27.3 -34.0,-27.4 Q-30.5,-28.6 -27.3,-26.9 Q-24.9,-25.7 -22.5,-24.5 Q-22.7,-28.4 -22.9,-32.2 Q-21.3,-34.3 -18.6,-34.6 Q-15.7,-32.0 -12.8,-29.3 Q-12.8,-35.0 -8.5,-38.9 Q-7.3,-35.3 -6.1,-31.7 Q-5.2,-34.7 -2.3,-36.1 Q-0.3,-37.0 1.6,-36.1 Q4.5,-36.0 6.4,-33.7 Q10.0,-34.7 13.1,-32.7 Q14.4,-33.6 16.0,-33.2 Q18.0,-30.6 17.5,-27.4 Q19.8,-25.9 20.3,-23.1 Q23.1,-24.0 25.6,-22.6 Q28.2,-22.0 29.5,-19.7 Q31.3,-18.2 31.4,-15.9 Q36.1,-14.2 38.1,-9.6 Q39.7,-4.9 37.2,-0.5 Q34.8,0.7 32.4,1.9 Q32.4,5.1 30.0,7.2 Q33.7,10.5 33.8,15.4 Q33.0,18.3 30.4,19.7 Q30.0,23.9 26.6,26.4 Q24.6,28.5 21.8,28.4 Q18.9,29.7 16.0,28.4 Q15.4,30.9 13.1,32.2 Q12.7,35.2 10.2,37.0 Q9.2,38.6 7.4,38.9 Q6.9,36.5 6.4,34.1 Q4.4,34.8 2.5,33.7 Q-3.7,37.8 -10.9,36.1 Q-14.5,37.1 -17.6,35.1 Q-20.4,34.6 -22.0,32.2 Q-19.6,27.9 -17.2,23.6 Q-20.1,25.4 -23.4,24.5 Q-28.4,25.0 -32.1,21.6 Q-33.2,17.0 -30.6,13.0 Q-32.4,10.9 -32.1,8.2 Q-36.2,6.6 -37.8,2.4 Q-36.6,-2.1 -32.5,-4.3 Q-30.6,-3.8 -28.7,-3.4 Q-30.6,-7.1 -29.2,-11.1 Q-32.5,-18.8 -35.9,-26.4Z" transform="translate(1180.4,375.9) scale(0.6355,0.6260)"/>
<path vector-effect="non-scaling-stroke" d="M-35.9,-26.4 Q-35.2,-27.3 -34.0,-27.4 Q-30.5,-28.6 -27.3,-26.9 Q-24.9,-25.7 -22.5,-24.5 Q-22.7,-28.4 -22.9,-32.2 Q-21.3,-34.3 -18.6,-34.6 Q-15.7,-32.0 -12.8,-29.3 Q-12.8,-35.0 -8.5,-38.9 Q-7.3,-35.3 -6.1,-31.7 Q-5.2,-34.7 -2.3,-36.1 Q-0.3,-37.0 1.6,-36.1 Q4.5,-36.0 6.4,-33.7 Q10.0,-34.7 13.1,-32.7 Q14.4,-33.6 16.0,-33.2 Q18.0,-30.6 17.5,-27.4 Q19.8,-25.9 20.3,-23.1 Q23.1,-24.0 25.6,-22.6 Q28.2,-22.0 29.5,-19.7 Q31.3,-18.2 31.4,-15.9 Q36.1,-14.2 38.1,-9.6 Q39.7,-4.9 37.2,-0.5 Q34.8,0.7 32.4,1.9 Q32.4,5.1 30.0,7.2 Q33.7,10.5 33.8,15.4 Q33.0,18.3 30.4,19.7 Q30.0,23.9 26.6,26.4 Q24.6,28.5 21.8,28.4 Q18.9,29.7 16.0,28.4 Q15.4,30.9 13.1,32.2 Q12.7,35.2 10.2,37.0 Q9.2,38.6 7.4,38.9 Q6.9,36.5 6.4,34.1 Q4.4,34.8 2.5,33.7 Q-3.7,37.8 -10.9,36.1 Q-14.5,37.1 -17.6,35.1 Q-20.4,34.6 -22.0,32.2 Q-19.6,27.9 -17.2,23.6 Q-20.1,25.4 -23.4,24.5 Q-28.4,25.0 -32.1,21.6 Q-33.2,17.0 -30.6,13.0 Q-32.4,10.9 -32.1,8.2 Q-36.2,6.6 -37.8,2.4 Q-36.6,-2.1 -32.5,-4.3 Q-30.6,-3.8 -28.7,-3.4 Q-30.6,-7.1 -29.2,-11.1 Q-32.5,-18.8 -35.9,-26.4Z" transform="translate(1139.0,602.8) scale(0.4737,0.4627)"/>
<path vector-effect="non-scaling-stroke" d="M-35.9,-26.4 Q-35.2,-27.3 -34.0,-27.4 Q-30.5,-28.6 -27.3,-26.9 Q-24.9,-25.7 -22.5,-24.5 Q-22.7,-28.4 -22.9,-32.2 Q-21.3,-34.3 -18.6,-34.6 Q-15.7,-32.0 -12.8,-29.3 Q-12.8,-35.0 -8.5,-38.9 Q-7.3,-35.3 -6.1,-31.7 Q-5.2,-34.7 -2.3,-36.1 Q-0.3,-37.0 1.6,-36.1 Q4.5,-36.0 6.4,-33.7 Q10.0,-34.7 13.1,-32.7 Q14.4,-33.6 16.0,-33.2 Q18.0,-30.6 17.5,-27.4 Q19.8,-25.9 20.3,-23.1 Q23.1,-24.0 25.6,-22.6 Q28.2,-22.0 29.5,-19.7 Q31.3,-18.2 31.4,-15.9 Q36.1,-14.2 38.1,-9.6 Q39.7,-4.9 37.2,-0.5 Q34.8,0.7 32.4,1.9 Q32.4,5.1 30.0,7.2 Q33.7,10.5 33.8,15.4 Q33.0,18.3 30.4,19.7 Q30.0,23.9 26.6,26.4 Q24.6,28.5 21.8,28.4 Q18.9,29.7 16.0,28.4 Q15.4,30.9 13.1,32.2 Q12.7,35.2 10.2,37.0 Q9.2,38.6 7.4,38.9 Q6.9,36.5 6.4,34.1 Q4.4,34.8 2.5,33.7 Q-3.7,37.8 -10.9,36.1 Q-14.5,37.1 -17.6,35.1 Q-20.4,34.6 -22.0,32.2 Q-19.6,27.9 -17.2,23.6 Q-20.1,25.4 -23.4,24.5 Q-28.4,25.0 -32.1,21.6 Q-33.2,17.0 -30.6,13.0 Q-32.4,10.9 -32.1,8.2 Q-36.2,6.6 -37.8,2.4 Q-36.6,-2.1 -32.5,-4.3 Q-30.6,-3.8 -28.7,-3.4 Q-30.6,-7.1 -29.2,-11.1 Q-32.5,-18.8 -35.9,-26.4Z" transform="translate(731.4,613.7) scale(0.6487,0.6401)"/>
<path vector-effect="non-scaling-stroke" d="M-35.9,-26.4 Q-35.2,-27.3 -34.0,-27.4 Q-30.5,-28.6 -27.3,-26.9 Q-24.9,-25.7 -22.5,-24.5 Q-22.7,-28.4 -22.9,-32.2 Q-21.3,-34.3 -18.6,-34.6 Q-15.7,-32.0 -12.8,-29.3 Q-12.8,-35.0 -8.5,-38.9 Q-7.3,-35.3 -6.1,-31.7 Q-5.2,-34.7 -2.3,-36.1 Q-0.3,-37.0 1.6,-36.1 Q4.5,-36.0 6.4,-33.7 Q10.0,-34.7 13.1,-32.7 Q14.4,-33.6 16.0,-33.2 Q18.0,-30.6 17.5,-27.4 Q19.8,-25.9 20.3,-23.1 Q23.1,-24.0 25.6,-22.6 Q28.2,-22.0 29.5,-19.7 Q31.3,-18.2 31.4,-15.9 Q36.1,-14.2 38.1,-9.6 Q39.7,-4.9 37.2,-0.5 Q34.8,0.7 32.4,1.9 Q32.4,5.1 30.0,7.2 Q33.7,10.5 33.8,15.4 Q33.0,18.3 30.4,19.7 Q30.0,23.9 26.6,26.4 Q24.6,28.5 21.8,28.4 Q18.9,29.7 16.0,28.4 Q15.4,30.9 13.1,32.2 Q12.7,35.2 10.2,37.0 Q9.2,38.6 7.4,38.9 Q6.9,36.5 6.4,34.1 Q4.4,34.8 2.5,33.7 Q-3.7,37.8 -10.9,36.1 Q-14.5,37.1 -17.6,35.1 Q-20.4,34.6 -22.0,32.2 Q-19.6,27.9 -17.2,23.6 Q-20.1,25.4 -23.4,24.5 Q-28.4,25.0 -32.1,21.6 Q-33.2,17.0 -30.6,13.0 Q-32.4,10.9 -32.1,8.2 Q-36.2,6.6 -37.8,2.4 Q-36.6,-2.1 -32.5,-4.3 Q-30.6,-3.8 -28.7,-3.4 Q-30.6,-7.1 -29.2,-11.1 Q-32.5,-18.8 -35.9,-26.4Z" transform="translate(848.1,613.7) scale(0.6421,0.6401)"/>
<path vector-effect="non-scaling-stroke" d="M-35.9,-26.4 Q-35.2,-27.3 -34.0,-27.4 Q-30.5,-28.6 -27.3,-26.9 Q-24.9,-25.7 -22.5,-24.5 Q-22.7,-28.4 -22.9,-32.2 Q-21.3,-34.3 -18.6,-34.6 Q-15.7,-32.0 -12.8,-29.3 Q-12.8,-35.0 -8.5,-38.9 Q-7.3,-35.3 -6.1,-31.7 Q-5.2,-34.7 -2.3,-36.1 Q-0.3,-37.0 1.6,-36.1 Q4.5,-36.0 6.4,-33.7 Q10.0,-34.7 13.1,-32.7 Q14.4,-33.6 16.0,-33.2 Q18.0,-30.6 17.5,-27.4 Q19.8,-25.9 20.3,-23.1 Q23.1,-24.0 25.6,-22.6 Q28.2,-22.0 29.5,-19.7 Q31.3,-18.2 31.4,-15.9 Q36.1,-14.2 38.1,-9.6 Q39.7,-4.9 37.2,-0.5 Q34.8,0.7 32.4,1.9 Q32.4,5.1 30.0,7.2 Q33.7,10.5 33.8,15.4 Q33.0,18.3 30.4,19.7 Q30.0,23.9 26.6,26.4 Q24.6,28.5 21.8,28.4 Q18.9,29.7 16.0,28.4 Q15.4,30.9 13.1,32.2 Q12.7,35.2 10.2,37.0 Q9.2,38.6 7.4,38.9 Q6.9,36.5 6.4,34.1 Q4.4,34.8 2.5,33.7 Q-3.7,37.8 -10.9,36.1 Q-14.5,37.1 -17.6,35.1 Q-20.4,34.6 -22.0,32.2 Q-19.6,27.9 -17.2,23.6 Q-20.1,25.4 -23.4,24.5 Q-28.4,25.0 -32.1,21.6 Q-33.2,17.0 -30.6,13.0 Q-32.4,10.9 -32.1,8.2 Q-36.2,6.6 -37.8,2.4 Q-36.6,-2.1 -32.5,-4.3 Q-30.6,-3.8 -28.7,-3.4 Q-30.6,-7.1 -29.2,-11.1 Q-32.5,-18.8 -35.9,-26.4Z" transform="translate(964.8,613.7) scale(0.6441,0.6401)"/>
<path vector-effect="non-scaling-stroke" d="M-35.9,-26.4 Q-35.2,-27.3 -34.0,-27.4 Q-30.5,-28.6 -27.3,-26.9 Q-24.9,-25.7 -22.5,-24.5 Q-22.7,-28.4 -22.9,-32.2 Q-21.3,-34.3 -18.6,-34.6 Q-15.7,-32.0 -12.8,-29.3 Q-12.8,-35.0 -8.5,-38.9 Q-7.3,-35.3 -6.1,-31.7 Q-5.2,-34.7 -2.3,-36.1 Q-0.3,-37.0 1.6,-36.1 Q4.5,-36.0 6.4,-33.7 Q10.0,-34.7 13.1,-32.7 Q14.4,-33.6 16.0,-33.2 Q18.0,-30.6 17.5,-27.4 Q19.8,-25.9 20.3,-23.1 Q23.1,-24.0 25.6,-22.6 Q28.2,-22.0 29.5,-19.7 Q31.3,-18.2 31.4,-15.9 Q36.1,-14.2 38.1,-9.6 Q39.7,-4.9 37.2,-0.5 Q34.8,0.7 32.4,1.9 Q32.4,5.1 30.0,7.2 Q33.7,10.5 33.8,15.4 Q33.0,18.3 30.4,19.7 Q30.0,23.9 26.6,26.4 Q24.6,28.5 21.8,28.4 Q18.9,29.7 16.0,28.4 Q15.4,30.9 13.1,32.2 Q12.7,35.2 10.2,37.0 Q9.2,38.6 7.4,38.9 Q6.9,36.5 6.4,34.1 Q4.4,34.8 2.5,33.7 Q-3.7,37.8 -10.9,36.1 Q-14.5,37.1 -17.6,35.1 Q-20.4,34.6 -22.0,32.2 Q-19.6,27.9 -17.2,23.6 Q-20.1,25.4 -23.4,24.5 Q-28.4,25.0 -32.1,21.6 Q-33.2,17.0 -30.6,13.0 Q-32.4,10.9 -32.1,8.2 Q-36.2,6.6 -37.8,2.4 Q-36.6,-2.1 -32.5,-4.3 Q-30.6,-3.8 -28.7,-3.4 Q-30.6,-7.1 -29.2,-11.1 Q-32.5,-18.8 -35.9,-26.4Z" transform="translate(1143.0,745.0) scale(0.5789,0.5656)"/>
<path vector-effect="non-scaling-stroke" d="M-35.9,-26.4 Q-35.2,-27.3 -34.0,-27.4 Q-30.5,-28.6 -27.3,-26.9 Q-24.9,-25.7 -22.5,-24.5 Q-22.7,-28.4 -22.9,-32.2 Q-21.3,-34.3 -18.6,-34.6 Q-15.7,-32.0 -12.8,-29.3 Q-12.8,-35.0 -8.5,-38.9 Q-7.3,-35.3 -6.1,-31.7 Q-5.2,-34.7 -2.3,-36.1 Q-0.3,-37.0 1.6,-36.1 Q4.5,-36.0 6.4,-33.7 Q10.0,-34.7 13.1,-32.7 Q14.4,-33.6 16.0,-33.2 Q18.0,-30.6 17.5,-27.4 Q19.8,-25.9 20.3,-23.1 Q23.1,-24.0 25.6,-22.6 Q28.2,-22.0 29.5,-19.7 Q31.3,-18.2 31.4,-15.9 Q36.1,-14.2 38.1,-9.6 Q39.7,-4.9 37.2,-0.5 Q34.8,0.7 32.4,1.9 Q32.4,5.1 30.0,7.2 Q33.7,10.5 33.8,15.4 Q33.0,18.3 30.4,19.7 Q30.0,23.9 26.6,26.4 Q24.6,28.5 21.8,28.4 Q18.9,29.7 16.0,28.4 Q15.4,30.9 13.1,32.2 Q12.7,35.2 10.2,37.0 Q9.2,38.6 7.4,38.9 Q6.9,36.5 6.4,34.1 Q4.4,34.8 2.5,33.7 Q-3.7,37.8 -10.9,36.1 Q-14.5,37.1 -17.6,35.1 Q-20.4,34.6 -22.0,32.2 Q-19.6,27.9 -17.2,23.6 Q-20.1,25.4 -23.4,24.5 Q-28.4,25.0 -32.1,21.6 Q-33.2,17.0 -30.6,13.0 Q-32.4,10.9 -32.1,8.2 Q-36.2,6.6 -37.8,2.4 Q-36.6,-2.1 -32.5,-4.3 Q-30.6,-3.8 -28.7,-3.4 Q-30.6,-7.1 -29.2,-11.1 Q-32.5,-18.8 -35.9,-26.4Z" transform="translate(1158.0,793.0) scale(0.4737,0.4627)"/>
<path vector-effect="non-scaling-stroke" d="M-35.9,-26.4 Q-35.2,-27.3 -34.0,-27.4 Q-30.5,-28.6 -27.3,-26.9 Q-24.9,-25.7 -22.5,-24.5 Q-22.7,-28.4 -22.9,-32.2 Q-21.3,-34.3 -18.6,-34.6 Q-15.7,-32.0 -12.8,-29.3 Q-12.8,-35.0 -8.5,-38.9 Q-7.3,-35.3 -6.1,-31.7 Q-5.2,-34.7 -2.3,-36.1 Q-0.3,-37.0 1.6,-36.1 Q4.5,-36.0 6.4,-33.7 Q10.0,-34.7 13.1,-32.7 Q14.4,-33.6 16.0,-33.2 Q18.0,-30.6 17.5,-27.4 Q19.8,-25.9 20.3,-23.1 Q23.1,-24.0 25.6,-22.6 Q28.2,-22.0 29.5,-19.7 Q31.3,-18.2 31.4,-15.9 Q36.1,-14.2 38.1,-9.6 Q39.7,-4.9 37.2,-0.5 Q34.8,0.7 32.4,1.9 Q32.4,5.1 30.0,7.2 Q33.7,10.5 33.8,15.4 Q33.0,18.3 30.4,19.7 Q30.0,23.9 26.6,26.4 Q24.6,28.5 21.8,28.4 Q18.9,29.7 16.0,28.4 Q15.4,30.9 13.1,32.2 Q12.7,35.2 10.2,37.0 Q9.2,38.6 7.4,38.9 Q6.9,36.5 6.4,34.1 Q4.4,34.8 2.5,33.7 Q-3.7,37.8 -10.9,36.1 Q-14.5,37.1 -17.6,35.1 Q-20.4,34.6 -22.0,32.2 Q-19.6,27.9 -17.2,23.6 Q-20.1,25.4 -23.4,24.5 Q-28.4,25.0 -32.1,21.6 Q-33.2,17.0 -30.6,13.0 Q-32.4,10.9 -32.1,8.2 Q-36.2,6.6 -37.8,2.4 Q-36.6,-2.1 -32.5,-4.3 Q-30.6,-3.8 -28.7,-3.4 Q-30.6,-7.1 -29.2,-11.1 Q-32.5,-18.8 -35.9,-26.4Z" transform="translate(1148.5,836.5) scale(0.6447,0.6298)"/>
</g>
<g stroke="none">
<rect x="384" y="549" width="112" height="65" fill="#e6e6e6"/>
<rect x="384" y="621" width="112" height="51" fill="#e6e6e6"/>
<rect x="441.7" y="757" width="55.3" height="52" fill="#e6e6e6"/>
<rect x="384" y="872" width="232" height="129.5" fill="#ffff00"/>
<polygon points="1427,115.8 1641,121.8 1635.8,295.4 1422.3,289" fill="#e6e6e6"/>
<polygon points="1422.3,303.8 1633,310 1630,409.5 1419.2,403.8" fill="#e6e6e6"/>
<polygon points="1419.2,418.2 1629,424 1624.5,601.25 1414.25,595" fill="#e6e6e6"/>
</g>
<g fill="none" stroke="#1c1c1c" stroke-width="1.6" stroke-linejoin="miter">
<path d="M378.5,0 L378.5,544 M378.5,79.5 L563.8,79.5 M563.8,0 L563.8,863.4"/>
<rect x="725.50" y="341.75" width="75.75" height="27.00"/>
<rect x="801.25" y="341.75" width="75.00" height="27.00"/>
<rect x="876.25" y="341.75" width="75.50" height="27.00"/>
<rect x="983.25" y="388.00" width="76.00" height="27.50"/>
<rect x="1031.25" y="428.00" width="28.00" height="75.25"/>
<rect x="780.50" y="517.00" width="138.75" height="27.25"/>
<rect x="919.25" y="517.00" width="139.50" height="27.25"/>
<rect x="725.50" y="405.50" width="27.50" height="138.75"/>
<rect x="753.00" y="405.50" width="27.50" height="138.75"/>
<rect x="776.90" y="205.50" width="27.30" height="75.30"/>
<rect x="804.20" y="205.50" width="27.50" height="75.30"/>
<rect x="831.70" y="205.50" width="26.70" height="75.30"/>
<rect x="858.40" y="253.80" width="75.40" height="27.00"/>
<rect x="933.80" y="253.80" width="75.10" height="27.00"/>
<rect x="1090.40" y="253.80" width="76.00" height="27.00"/>
<rect x="1207.00" y="470.00" width="76.00" height="26.80"/>
<rect x="1207.00" y="496.80" width="76.00" height="27.00"/>
<rect x="1283.00" y="524.50" width="27.80" height="75.50"/>
<rect x="1166.80" y="556.80" width="27.00" height="75.40"/>
<rect x="1193.80" y="556.80" width="27.20" height="75.40"/>
<rect x="1221.00" y="556.80" width="27.60" height="75.40"/>
<polygon points="1034.90,-11.60 1270.50,9.00 1261.25,108.00 1025.50,85.50"/>
<polygon points="1421.70,26.70 1650.00,33.30 1648.30,114.20 1418.70,108.30"/>
<path d="M1650,33.3 L1706.3,34.7 L1697.9,328.1"/>
<polygon points="1642.30,327.40 1855.60,333.50 1853.60,412.00 1640.30,406.00"/>
<polygon points="1799.25,13.00 1856.25,17.00 1844.50,185.00 1788.25,181.25"/>
<path d="M1803.25,182.5 L1794.7,305 L1836.7,308.4 L1844.5,185"/>
<path d="M1405.5,604 L1397,860 L1397.5,995.5 L1533.25,993.75 L1544.5,607.5"/>
<polygon points="1134.25,864.50 1397.00,860.00 1397.50,995.50 1136.75,997.00"/>
<polygon points="1060.70,970.70 1133.50,969.50 1133.50,997.30 1060.70,998.70"/>
<polygon points="657.30,978.10 733.20,976.78 733.20,1003.98 657.30,1005.30"/>
<polygon points="733.20,976.78 808.60,975.46 808.60,1002.66 733.20,1003.98"/>
<polygon points="808.60,975.46 884.20,974.14 884.20,1001.34 808.60,1002.66"/>
<polygon points="884.20,974.14 960.20,972.81 960.20,1000.01 884.20,1001.34"/>
<polygon points="960.20,972.81 1035.50,971.50 1035.50,998.70 960.20,1000.01"/>
</g>
<g fill="none" stroke="#1c1c1c" stroke-width="2">
<path d="M501.5,596.3 L563.8,596.3"/>
<path d="M501.5,649.7 L563.8,649.7"/>
<path d="M501.5,703.0 L563.8,703.0"/>
<path d="M501.5,756.3 L563.8,756.3"/>
<path d="M501.5,808.8 L563.8,808.8"/>
<path d="M501.5,544 L563.8,544"/>
<path d="M501.5,544.0 L563.8,596.3 M563.8,544.0 L501.5,596.3"/>
<path d="M501.5,596.3 L563.8,649.7 M563.8,596.3 L501.5,649.7"/>
<path d="M501.5,649.7 L563.8,703.0 M563.8,649.7 L501.5,703.0"/>
<path d="M501.5,756.3 L563.8,808.8 M563.8,756.3 L501.5,808.8"/>
</g>
<g fill="none" stroke="#000" stroke-width="3" stroke-linejoin="miter" stroke-linecap="square">
<path d="M501.5,544 L378.5,544 L378.5,1007 L623,1007 L623,863.4 L501.5,863.4 Z"/>
<polygon points="1418.90,108.00 1648.50,113.80 1643.40,301.20 1414.70,295.20"/>
<polygon points="1414.70,295.20 1643.40,301.20 1637.50,416.25 1410.60,410.50"/>
<polygon points="1410.60,410.50 1637.50,416.25 1634.50,608.00 1405.50,602.00"/>
</g>
<g fill="#000">
<polygon points="344.60,85.40 370.80,100.20 344.60,115.00"/>
<polygon points="344.60,557.20 370.80,572.00 344.60,586.90"/>
<polygon points="360.10,830.60 373.60,838.30 360.10,846.00"/>
<polygon points="521.00,718.70 508.00,726.00 521.00,733.30"/>
<polygon points="521.25,829.00 508.00,836.50 521.25,843.90"/>
<polygon points="529.80,845.00 545.00,845.00 537.40,858.00"/>
<polygon points="1377.80,190.90 1404.30,205.90 1377.80,220.90"/>
<polygon points="1374.80,341.40 1401.00,356.00 1374.80,370.60"/>
<polygon points="1371.40,481.70 1397.80,496.60 1371.40,511.50"/>
</g>
<g font-family="Liberation Sans, sans-serif">
<text x="440.0" y="587.5" font-size="16.0" font-weight="bold" fill="#000" text-anchor="middle" textLength="65.0" lengthAdjust="spacingAndGlyphs" stroke="#000" stroke-width="0.3">Sala Flex</text>
<text x="440.7" y="650.8" font-size="16.0" font-weight="bold" fill="#000" text-anchor="middle" textLength="102.0" lengthAdjust="spacingAndGlyphs" stroke="#000" stroke-width="0.3">Sala Hamilton</text>
<text x="472.0" y="780.3" font-size="16.0" font-weight="bold" fill="#000" text-anchor="middle" textLength="30.8" lengthAdjust="spacingAndGlyphs" stroke="#000" stroke-width="0.3">Sala</text>
<text x="472.5" y="799.7" font-size="16.0" font-weight="bold" fill="#000" text-anchor="middle" textLength="31.6" lengthAdjust="spacingAndGlyphs" stroke="#000" stroke-width="0.3">FOR</text>
<text x="499.4" y="945.8" font-size="16.0" font-weight="bold" fill="#000" text-anchor="middle" textLength="85.2" lengthAdjust="spacingAndGlyphs" stroke="#000" stroke-width="0.3">Sala FABER</text>
<text x="593.8" y="837.9" font-size="13.0" font-weight="bold" fill="#000" text-anchor="middle" textLength="34.7" lengthAdjust="spacingAndGlyphs" stroke="#000" stroke-width="0.3">Acces</text>
<text x="593.9" y="852.5" font-size="13.0" font-weight="bold" fill="#000" text-anchor="middle" textLength="45.3" lengthAdjust="spacingAndGlyphs" stroke="#000" stroke-width="0.3">pietonal</text>
<text x="1528.0" y="210.7" font-size="16.0" font-weight="bold" fill="#000" text-anchor="middle" textLength="50.8" lengthAdjust="spacingAndGlyphs" stroke="#000" stroke-width="0.3">Hala III</text>
<text x="1528.7" y="353.0" font-size="16.0" font-weight="bold" fill="#000" text-anchor="middle" textLength="46.5" lengthAdjust="spacingAndGlyphs" stroke="#000" stroke-width="0.3">Hala II</text>
<text x="1528.7" y="372.5" font-size="16.0" font-weight="bold" fill="#000" text-anchor="middle" textLength="102.5" lengthAdjust="spacingAndGlyphs" stroke="#000" stroke-width="0.3">(The Kitchen)</text>
<text x="1517.5" y="518.0" font-size="16.0" font-weight="bold" fill="#000" text-anchor="middle" textLength="41.0" lengthAdjust="spacingAndGlyphs" stroke="#000" stroke-width="0.3">Hala I</text>
<text x="1342.4" y="210.3" font-size="16.0" font-weight="bold" fill="#000" text-anchor="middle" textLength="44.3" lengthAdjust="spacingAndGlyphs" stroke="#000" stroke-width="0.3">Acces</text>
<text x="1339.5" y="360.8" font-size="16.0" font-weight="bold" fill="#000" text-anchor="middle" textLength="44.0" lengthAdjust="spacingAndGlyphs" stroke="#000" stroke-width="0.3">Acces</text>
<text x="1339.5" y="501.2" font-size="16.0" font-weight="bold" fill="#000" text-anchor="middle" textLength="44.0" lengthAdjust="spacingAndGlyphs" stroke="#000" stroke-width="0.3">Acces</text>
<text transform="translate(327.0,91.5) rotate(90)" x="0" y="0" font-size="15.0" font-weight="bold" fill="#000" text-anchor="middle" textLength="40.0" lengthAdjust="spacingAndGlyphs" stroke="#000" stroke-width="0.3">Acces</text>
<text transform="translate(310.0,91.0) rotate(90)" x="0" y="0" font-size="15.0" font-weight="bold" fill="#000" text-anchor="middle" textLength="90.0" lengthAdjust="spacingAndGlyphs" stroke="#000" stroke-width="0.3">auto/pietonal</text>
<text transform="translate(327.0,571.5) rotate(90)" x="0" y="0" font-size="15.0" font-weight="bold" fill="#000" text-anchor="middle" textLength="40.0" lengthAdjust="spacingAndGlyphs" stroke="#000" stroke-width="0.3">Acces</text>
<text transform="translate(310.0,571.0) rotate(90)" x="0" y="0" font-size="15.0" font-weight="bold" fill="#000" text-anchor="middle" textLength="90.0" lengthAdjust="spacingAndGlyphs" stroke="#000" stroke-width="0.3">auto/pietonal</text>
<text transform="translate(343.8,837.4) rotate(90)" x="0" y="0" font-size="13.0" font-weight="bold" fill="#000" text-anchor="middle" textLength="34.6" lengthAdjust="spacingAndGlyphs" stroke="#000" stroke-width="0.3">Acces</text>
<text transform="translate(329.5,837.5) rotate(90)" x="0" y="0" font-size="13.0" font-weight="bold" fill="#000" text-anchor="middle" textLength="46.0" lengthAdjust="spacingAndGlyphs" stroke="#000" stroke-width="0.3">pietonal</text>
<text transform="translate(317.0,324.5) rotate(90)" x="0" y="0" font-size="26.0" font-weight="normal" fill="#8a8a8a" text-anchor="middle" textLength="271.0" lengthAdjust="spacingAndGlyphs">Splaiul Peneș Curcanul</text>
<text transform="translate(41.0,572.8) rotate(90)" x="0" y="0" font-size="25.0" font-weight="normal" fill="#8a8a8a" text-anchor="middle" textLength="56.5" lengthAdjust="spacingAndGlyphs">Bega</text>
<text x="940.4" y="321.2" font-size="17.0" font-weight="normal" fill="#8a8a8a" text-anchor="middle" textLength="60.8" lengthAdjust="spacingAndGlyphs">Muzicon</text>
<text x="987.9" y="535.5" font-size="17.0" font-weight="normal" fill="#8a8a8a" text-anchor="middle" textLength="93.2" lengthAdjust="spacingAndGlyphs">Waeste.wear</text>
<text transform="translate(735.5,475.2) rotate(90)" x="0" y="0" font-size="17.0" font-weight="normal" fill="#8a8a8a" text-anchor="middle" textLength="54.5" lengthAdjust="spacingAndGlyphs">Oilright</text>
<text x="1234.6" y="547.0" font-size="17.0" font-weight="normal" fill="#8a8a8a" text-anchor="middle" textLength="26.2" lengthAdjust="spacingAndGlyphs">Plai</text>
<text x="1748.3" y="788.1" font-size="16.5" font-weight="normal" fill="#8a8a8a" text-anchor="middle" textLength="185.0" lengthAdjust="spacingAndGlyphs">Platformă Fabrica 1 Iunie</text>
</g>
</svg>
</body></html>
